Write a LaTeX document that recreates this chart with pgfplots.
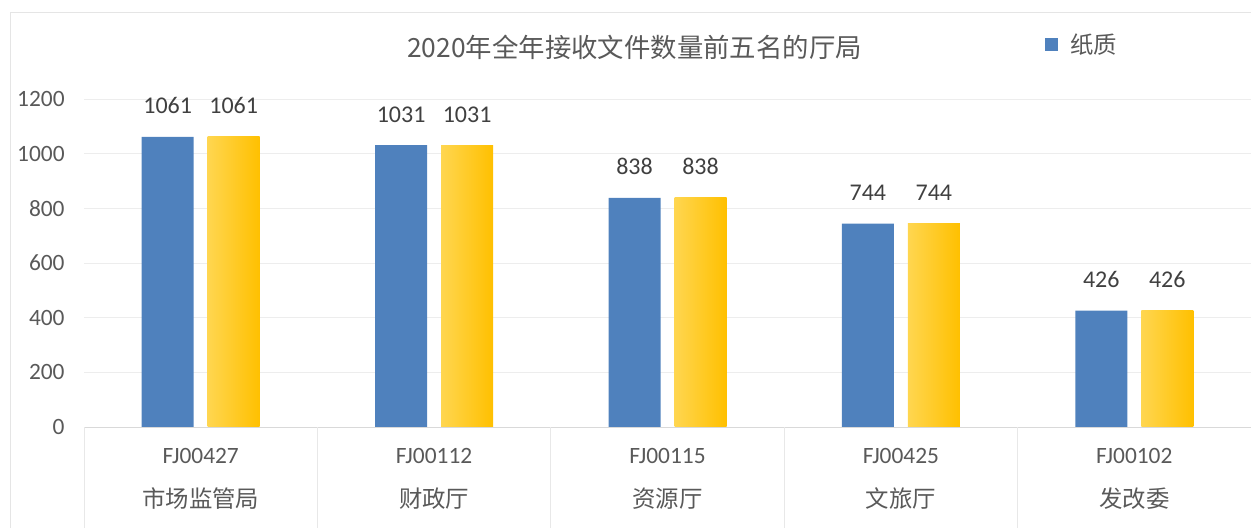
\documentclass[border=0pt]{standalone}
\usepackage{fontspec}
\setmainfont{Carlito}
\newfontfamily\cjk{Noto Sans CJK SC}
\usepackage{pgfplots}
\pgfplotsset{compat=1.18}
\definecolor{barBlue}{RGB}{79,129,189}
\definecolor{goldL}{RGB}{255,214,80}
\definecolor{goldR}{RGB}{255,192,0}
\definecolor{labelGray}{RGB}{89,89,89}
\definecolor{valGray}{RGB}{64,64,64}

\begin{document}
\begin{tikzpicture}[x=1pt,y=1pt]
\useasboundingbox (0,0) rectangle (625.5,264);
\draw[black!10] (5,0) -- (5,258) -- (625.5,258);
\node[text=labelGray, font=\cjk\fontsize{13.2}{15}\selectfont] at (317.25,240.5) {2020年全年接收文件数量前五名的厅局};
\begin{axis}[
  at={(42pt,50.5pt)}, anchor=south west,
  scale only axis, width=583.5pt, height=164pt,
  xmin=-0.5, xmax=4.5, ymin=0, ymax=1200,
  ybar, bar width=26pt,
  clip=false,
  axis line style={draw=none},
  major tick length=0pt,
  /pgf/number format/assume math mode=true,
  /pgf/number format/1000 sep={},
  ytick={0,200,...,1200},
  ymajorgrids, grid style={draw=black!7},
  tick label style={font=\fontsize{11.7}{14}\selectfont, text=labelGray},
  yticklabel style={anchor=east, inner sep=0pt, xshift=-9.5pt},
  xtick={0,...,4},
  xticklabels={FJ00427,FJ00112,FJ00115,FJ00425,FJ00102},
  xticklabel style={anchor=base, inner sep=0pt, yshift=-18.5pt},
  extra x ticks={0,...,4},
  extra x tick labels={{\cjk 市场监管局},{\cjk 财政厅},{\cjk 资源厅},{\cjk 文旅厅},{\cjk 发改委}},
  extra x tick style={xticklabel style={yshift=-22pt}},
  nodes near coords,
  every node near coord/.append style={font=\fontsize{12}{14}\selectfont, text=valGray, anchor=base, yshift=11.5pt},
  legend entries={{\cjk 纸质}},
  legend image code/.code={\fill[#1] (0pt,-3.25pt) rectangle (6.5pt,3.25pt);},
  legend style={at={(axis description cs:0.8235,1.165)}, anchor=west, draw=none, fill=none, inner sep=0pt,
    font=\fontsize{11.7}{14}\selectfont, text=labelGray,
    /tikz/every odd column/.append style={column sep=4pt}},
]
% paper (blue)
\addplot[fill=barBlue, draw=none, bar shift=-16.5pt] coordinates {(0,1061) (1,1031) (2,838) (3,744) (4,426)};
% second series, one bar per plot so each bar gets its own gradient
\addplot[draw=none, left color=goldL, right color=goldR, bar shift=16.5pt] coordinates {(0,1061)};
\addplot[draw=none, left color=goldL, right color=goldR, bar shift=16.5pt] coordinates {(1,1031)};
\addplot[draw=none, left color=goldL, right color=goldR, bar shift=16.5pt] coordinates {(2,838)};
\addplot[draw=none, left color=goldL, right color=goldR, bar shift=16.5pt] coordinates {(3,744)};
\addplot[draw=none, left color=goldL, right color=goldR, bar shift=16.5pt] coordinates {(4,426)};
\draw[black!15] (axis cs:-0.5,0) -- (axis cs:4.5,0);
\pgfplotsinvokeforeach{-0.5,0.5,1.5,2.5,3.5,4.5}{
  \draw[black!9] (axis cs:#1,0) -- ([yshift=-50.5pt]axis cs:#1,0);
}
\end{axis}
\end{tikzpicture}
\end{document}
